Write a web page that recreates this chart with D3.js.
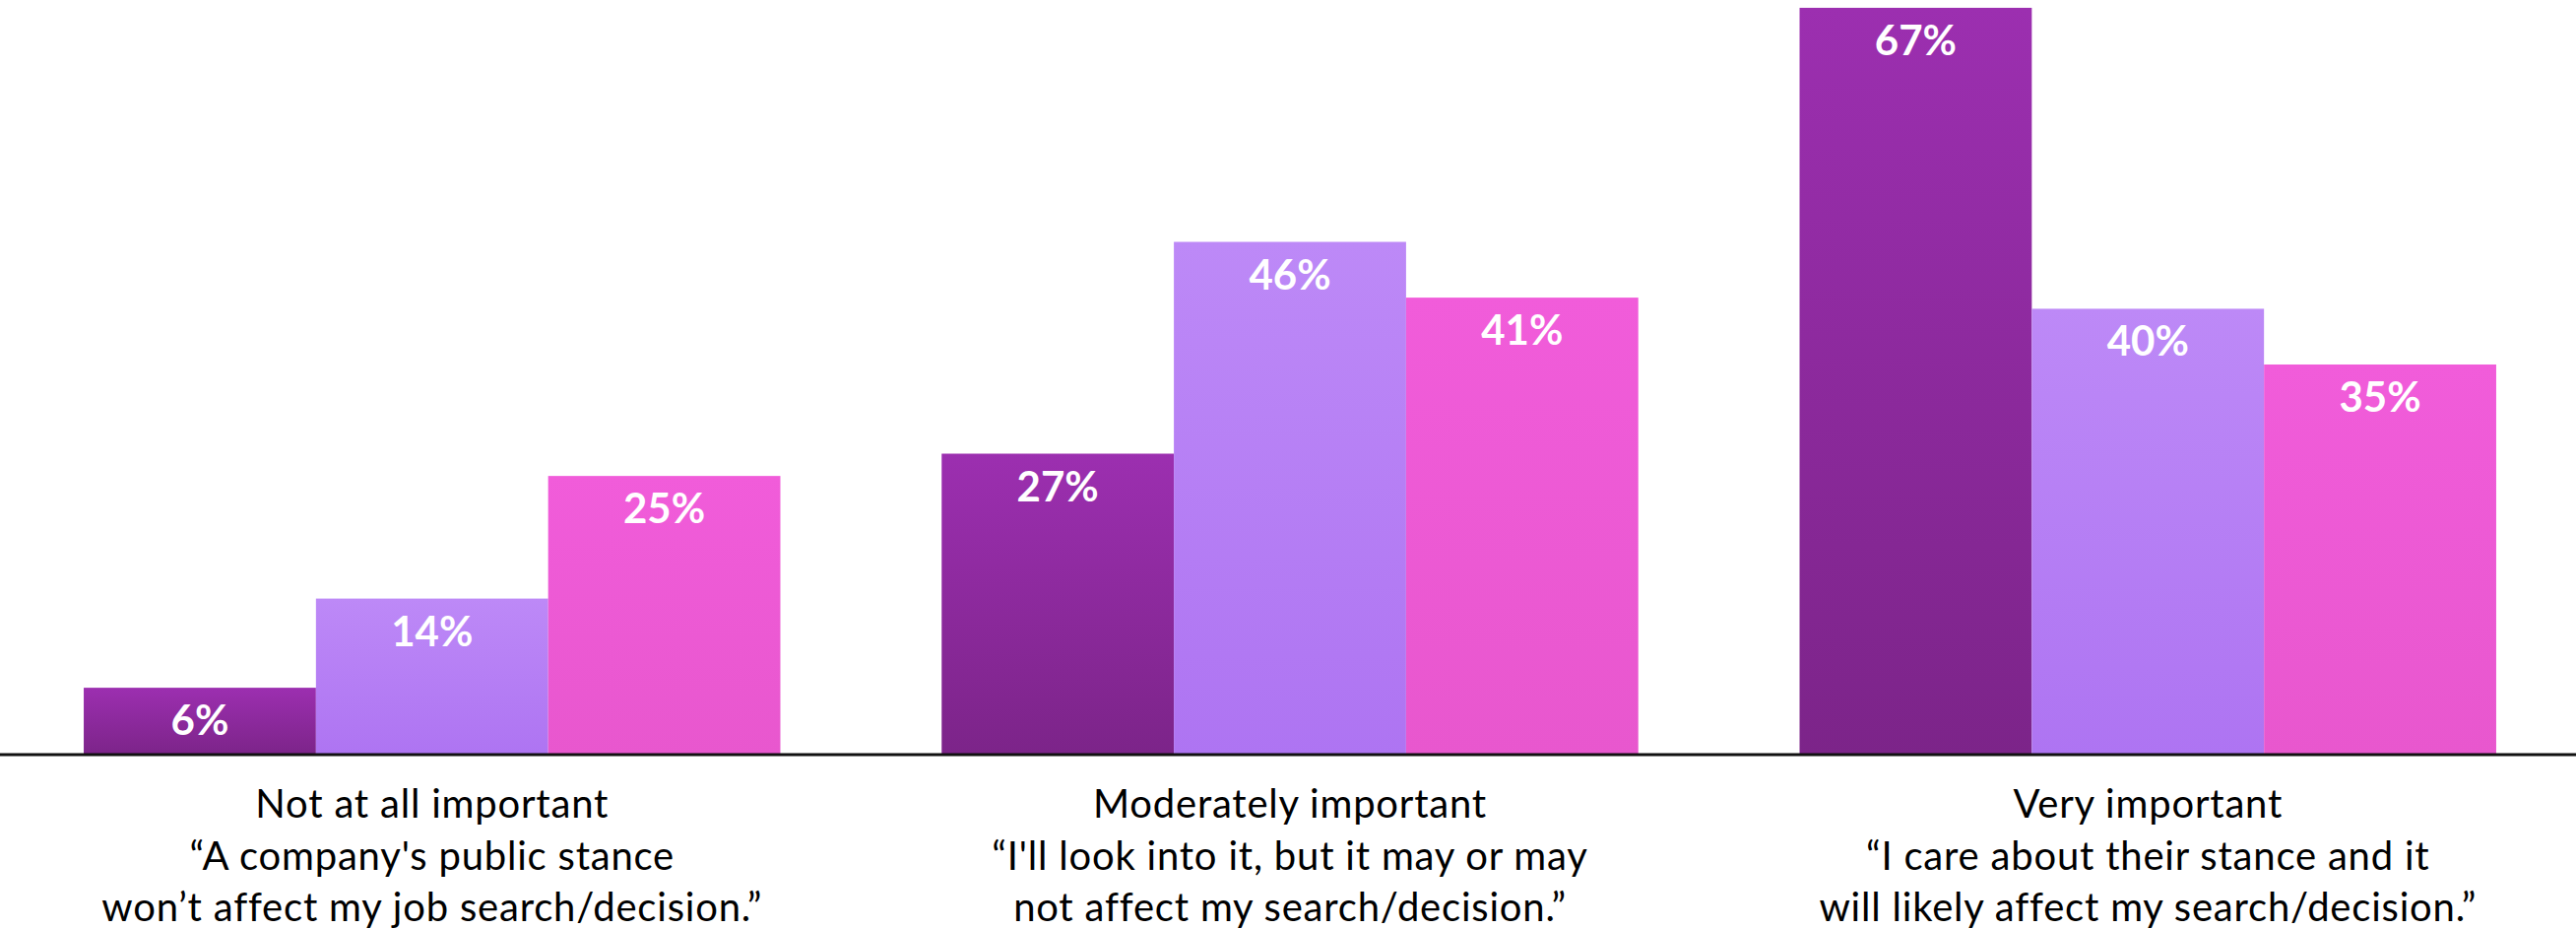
<!DOCTYPE html>
<html>
<head>
<meta charset="utf-8">
<script src="https://cdn.jsdelivr.net/npm/d3@7"></script>
<style>
  html, body { margin: 0; padding: 0; background: #fff; }
  svg { display: block; }
</style>
</head>
<body>
<svg id="chart" width="2616" height="943"></svg>
<script>
// Importance of a company's public stance in job decisions, three respondent groups
const categories = ["Not at all important", "Moderately important", "Very important"];
const categoryQuotes = [
  ["“A company's public stance", "won’t affect my job search/decision.”"],
  ["“I'll look into it, but it may or may", "not affect my search/decision.”"],
  ["“I care about their stance and it", "will likely affect my search/decision.”"]
];
const seriesNames = ["Group A", "Group B", "Group C"];
const seriesA = [6, 27, 67];
const seriesB = [14, 46, 40];
const seriesC = [25, 41, 35];
const seriesValues = [seriesA, seriesB, seriesC];

const W = 2616, H = 943;
const baseY = 766;

const svg = d3.select("#chart");

// Vertical gradients per series (lighter at top, deeper at bottom)
const gradStops = [
  ["#9c2fb0", "#7c2489"],
  ["#bd89f7", "#ae74f2"],
  ["#f15cda", "#e857ce"]
];
const defs = svg.append("defs");
gradStops.forEach((c, i) => {
  const g = defs.append("linearGradient")
    .attr("id", "grad" + i)
    .attr("x1", 0).attr("y1", 0).attr("x2", 0).attr("y2", 1);
  g.append("stop").attr("offset", "0%").attr("stop-color", c[0]);
  g.append("stop").attr("offset", "100%").attr("stop-color", c[1]);
});

const x0 = d3.scaleBand()
  .domain(categories)
  .range([0, 2620])
  .paddingInner(0.188)
  .paddingOuter(0.0976);

const x1 = d3.scaleBand()
  .domain(seriesNames)
  .range([0, x0.bandwidth()])
  .padding(0);

const y = d3.scaleLinear()
  .domain([0, 67.7])
  .range([baseY, 0]);

const rows = categories.map((cat, ci) => ({
  cat,
  values: seriesNames.map((s, si) => ({ s, si, v: seriesValues[si][ci] }))
}));

const groups = svg.append("g").selectAll("g")
  .data(rows)
  .join("g")
  .attr("transform", d => `translate(${x0(d.cat)},0)`);

groups.selectAll("rect")
  .data(d => d.values)
  .join("rect")
  .attr("x", d => x1(d.s))
  .attr("y", d => y(d.v))
  .attr("width", x1.bandwidth())
  .attr("height", d => y(0) - y(d.v))
  .attr("fill", d => `url(#grad${d.si})`);

groups.selectAll("text.val")
  .data(d => d.values)
  .join("text")
  .attr("class", "val")
  .attr("x", d => x1(d.s) + x1.bandwidth() / 2)
  .attr("y", d => y(d.v) + 48)
  .attr("text-anchor", "middle")
  .attr("font-family", "Lato, 'Open Sans', sans-serif")
  .attr("font-weight", 700)
  .attr("font-size", 42)
  .attr("fill", "#fff")
  .text(d => d.v + "%");

// Baseline axis
const xAxis = d3.axisBottom(x0).tickSize(0).tickFormat("");
const axisG = svg.append("g")
  .attr("transform", `translate(0,${baseY})`)
  .call(xAxis);
axisG.select(".domain")
  .attr("d", `M0,0H${W}`)
  .attr("stroke", "#111")
  .attr("stroke-width", 3);

// Category labels (three lines each)
const labelG = svg.append("g")
  .attr("font-family", "Lato, 'Open Sans', sans-serif")
  .attr("font-size", 40)
  .attr("fill", "#000")
  .attr("text-anchor", "middle");

categories.forEach((cat, i) => {
  const cx = x0(cat) + x0.bandwidth() / 2;
  const lines = [cat].concat(categoryQuotes[i]);
  lines.forEach((ln, li) => {
    labelG.append("text")
      .attr("x", cx)
      .attr("y", 830 + li * 52.5)
      .attr("letter-spacing", 0.8)
      .text(ln);
  });
});
</script>
</body>
</html>
